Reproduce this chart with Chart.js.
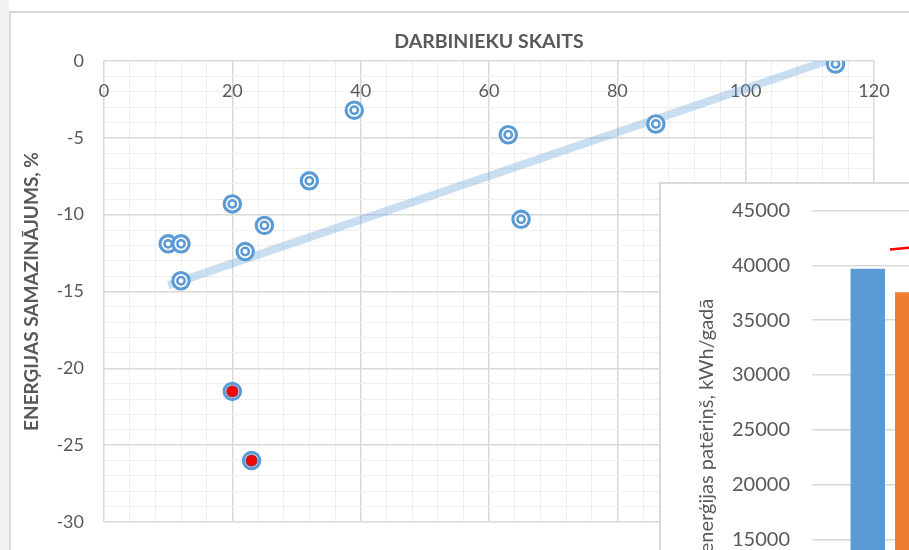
<!DOCTYPE html>
<html>
<head>
<meta charset="utf-8">
<script src="https://cdn.jsdelivr.net/npm/chart.js@4/dist/chart.umd.min.js"></script>
<style>
html,body{margin:0;padding:0;width:909px;height:550px;overflow:hidden;background:#fff;}
#leftStrip{position:absolute;left:0;top:0;width:9px;height:550px;background:#f2f2f2;}
#frame{position:absolute;left:9px;top:11px;width:1000px;height:600px;border-left:2px solid #d9d9d9;border-top:2px solid #d9d9d9;background:#fff;}
#main{position:absolute;left:0;top:0;}
#inset{position:absolute;left:659px;top:182px;width:480px;height:560px;border-left:2px solid #d9d9d9;border-top:2px solid #d9d9d9;background:#fff;}
#insetCanvas{position:absolute;left:0;top:0;}
</style>
</head>
<body>
<div id="leftStrip"></div>
<div id="frame"></div>
<canvas id="main" width="909" height="550"></canvas>
<div id="inset"><canvas id="insetCanvas" width="480" height="560"></canvas></div>
<script>
// ---- Main scatter chart data ----
const employees       = [39, 32, 20, 25, 22, 10, 12, 12, 63, 65, 86, 114];
const energyReduction = [-3.2, -7.8, -9.3, -10.7, -12.4, -11.9, -11.9, -14.3, -4.8, -10.3, -4.1, -0.2];
const redEmployees    = [20, 23];
const redReduction    = [-21.5, -26.0];
const trendEmployees  = [10, 114];
const trendReduction  = [-14.6, 0.2];
const xTitle = 'DARBINIEKU SKAITS';
const yTitle = 'ENERĢIJAS SAMAZINĀJUMS, %';

// ---- Inset bar chart data ----
const insetCategories = ['1', '2'];
const insetBlue       = [39700, null];
const insetOrange     = [37550, null];
const insetRedLine    = [41450, 42800];
const insetYTitle     = 'Elektroenerģijas patēriņš, kWh/gadā';

const TEXT = '#595959';
const FONT = 'Lato, "Open Sans", sans-serif';
const BLUE = '#5b9bd5';
const MAJOR = '#d9d9d9';
const MINOR = '#efefef';
const CLEAR = 'rgba(0,0,0,0)';

const pts = employees.map((x, i) => ({x, y: energyReduction[i]}));
const redPts = redEmployees.map((x, i) => ({x, y: redReduction[i]}));
const trendPts = trendEmployees.map((x, i) => ({x, y: trendReduction[i]}));

new Chart(document.getElementById('main'), {
  type: 'scatter',
  data: {
    datasets: [
      {label: 'trend', data: trendPts, showLine: true, borderColor: 'rgba(91,155,213,0.33)', borderWidth: 8,
       pointRadius: 0, borderCapStyle: 'butt', clip: 0, order: 10},
      {label: 'outer', data: pts, pointRadius: 8.2, borderWidth: 3.1, borderColor: BLUE, backgroundColor: '#fff', order: 5},
      {label: 'inner', data: pts, pointRadius: 3.7, borderWidth: 2.5, borderColor: BLUE, backgroundColor: '#fff', order: 4},
      {label: 'redOuter', data: redPts, pointRadius: 8.2, borderWidth: 3.1, borderColor: BLUE, backgroundColor: '#fff', order: 3},
      {label: 'redInner', data: redPts, pointRadius: 5.4, borderWidth: 1.5, borderColor: '#a3283a', backgroundColor: '#ff0000', order: 2}
    ]
  },
  options: {
    responsive: false,
    animation: false,
    layout: {padding: {left: 0, right: 35, top: 0, bottom: 28}},
    plugins: {
      legend: {display: false},
      tooltip: {enabled: false},
      title: {display: true, text: xTitle, color: TEXT, fullSize: false,
              font: {family: FONT, size: 19.5, weight: 'bold'}, padding: {top: 30.3, bottom: 7.3}}
    },
    scales: {
      x: {
        type: 'linear', position: {y: 0}, min: 0, max: 120,
        ticks: {stepSize: 4, autoSkip: false, maxRotation: 0, padding: 19, color: TEXT,
                font: {family: FONT, size: 18},
                callback: v => (v % 20 === 0 ? String(v) : '')},
        grid: {drawTicks: false,
               color: c => (c.tick && c.tick.value % 20 === 0 ? MAJOR : MINOR),
               lineWidth: c => (c.tick && c.tick.value % 20 === 0 ? 1.5 : 1)},
        border: {display: false}
      },
      y: {
        type: 'linear', min: -30, max: 0,
        ticks: {stepSize: 1, autoSkip: false, padding: 0, color: TEXT,
                font: {family: FONT, size: 18},
                callback: v => (Math.abs(v) % 5 === 0 ? String(v === 0 ? 0 : v) : '')},
        grid: {drawTicks: true, tickLength: 20, tickColor: CLEAR,
               color: c => (c.tick && Math.abs(c.tick.value) % 5 === 0 ? MAJOR : MINOR),
               lineWidth: c => (c.tick && Math.abs(c.tick.value) % 5 === 0 ? 1.5 : 1)},
        border: {display: false},
        title: {display: true, text: yTitle, color: TEXT, font: {family: FONT, size: 19, weight: 'bold'},
                padding: {top: 20.6, bottom: 0}},
        afterFit: s => { s.width = 104; }
      }
    }
  }
});

new Chart(document.getElementById('insetCanvas'), {
  type: 'bar',
  data: {
    labels: insetCategories,
    datasets: [
      {label: 'line', type: 'line', data: insetRedLine, borderColor: '#ff0000', borderWidth: 2.5, pointRadius: 0, order: 0},
      {label: 'blue', data: insetBlue, backgroundColor: BLUE, barPercentage: 0.775, categoryPercentage: 0.57, order: 1},
      {label: 'orange', data: insetOrange, backgroundColor: '#ed7d31', barPercentage: 0.775, categoryPercentage: 0.57, order: 1}
    ]
  },
  options: {
    responsive: false,
    animation: false,
    layout: {padding: {left: 0, right: 17, top: 26.7, bottom: 40.4}},
    plugins: {legend: {display: false}, tooltip: {enabled: false}},
    scales: {
      x: {display: false},
      y: {
        min: 0, max: 45000,
        ticks: {stepSize: 5000, padding: 0, color: TEXT, font: {family: FONT, size: 20},
                callback: v => String(v)},
        grid: {drawTicks: true, tickLength: 22, tickColor: CLEAR, color: MAJOR, lineWidth: 1.5},
        border: {display: false},
        title: {display: true, text: insetYTitle, color: TEXT, font: {family: FONT, size: 20},
                padding: {top: 33.7, bottom: 0}},
        afterFit: s => { s.width = 151; }
      }
    }
  }
});
</script>
</body>
</html>
